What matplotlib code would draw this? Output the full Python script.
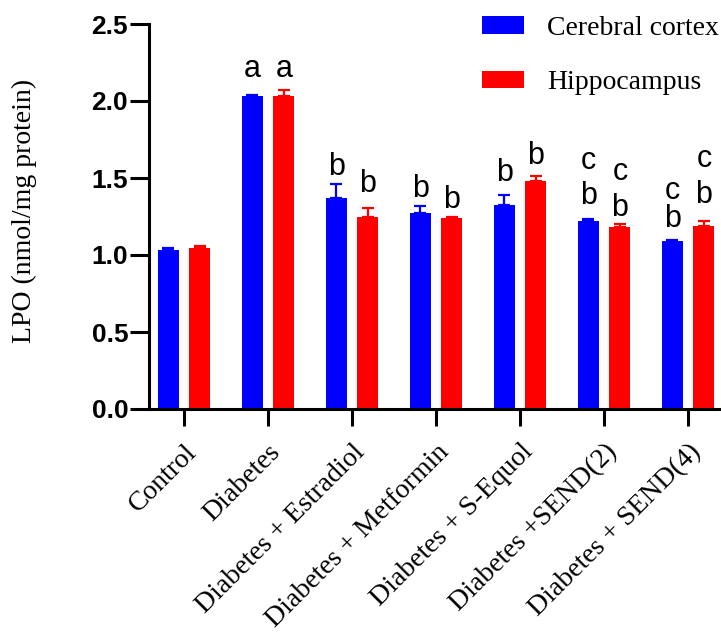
import matplotlib.pyplot as plt
import numpy as np

groups = ['Control', 'Diabetes', 'Diabetes + Estradiol', 'Diabetes + Metformin',
          'Diabetes + S-Equol', 'Diabetes +SEND(2)', 'Diabetes + SEND(4)']
cortex = [1.03, 2.03, 1.37, 1.27, 1.325, 1.22, 1.09]
cortex_err = [0.015, 0.01, 0.09, 0.045, 0.065, 0.015, 0.005]
hippo = [1.045, 2.03, 1.25, 1.24, 1.48, 1.18, 1.19]
hippo_err = [0.015, 0.04, 0.055, 0.01, 0.03, 0.02, 0.03]

# significance letters: (group, series 0=cortex 1=hippocampus, letter, baseline y)
letters = [
    (1, 0, 'a', 2.156), (1, 1, 'a', 2.156),
    (2, 0, 'b', 1.52), (2, 1, 'b', 1.41),
    (3, 0, 'b', 1.377), (3, 1, 'b', 1.305),
    (4, 0, 'b', 1.48), (4, 1, 'b', 1.59),
    (5, 0, 'b', 1.33), (5, 0, 'c', 1.56), (5, 1, 'b', 1.253), (5, 1, 'c', 1.487),
    (6, 0, 'b', 1.18), (6, 0, 'c', 1.364), (6, 1, 'b', 1.338), (6, 1, 'c', 1.57),
]

serif = 'Liberation Serif'
sans = 'Liberation Sans'

x = np.arange(len(groups))
width = 0.25
off = 0.19

fig = plt.figure(figsize=(7.21, 6.32), dpi=100)
ax = fig.add_axes([149 / 721, 1 - 409 / 632, 1 - 149 / 721, (409 - 24) / 632])

ax.bar(x - off, cortex, width, color='#0000FF', label='Cerebral cortex', zorder=2)
ax.bar(x + off, hippo, width, color='#FF0000', label='Hippocampus', zorder=2)
ax.errorbar(x - off, cortex, yerr=[np.zeros(len(x)), cortex_err], fmt='none',
            ecolor='#0000FF', elinewidth=1.6, capsize=4, capthick=1.6, zorder=1)
ax.errorbar(x + off, hippo, yerr=[np.zeros(len(x)), hippo_err], fmt='none',
            ecolor='#FF0000', elinewidth=1.6, capsize=4, capthick=1.6, zorder=1)

for g, s, txt, yy in letters:
    xx = g - off if s == 0 else g + off
    ax.text(xx, yy, txt, ha='center', va='baseline', fontsize=22, family=sans)

ax.set_ylim(0, 2.5)
ax.set_xlim(-0.417, 6.393)
ax.set_yticks([0, 0.5, 1.0, 1.5, 2.0, 2.5])
ax.set_yticklabels(['0.0', '0.5', '1.0', '1.5', '2.0', '2.5'],
                   fontsize=19, fontweight='bold', family=sans)
ax.set_xticks(x)
ax.set_xticklabels(groups, rotation=45, ha='right', va='top',
                   rotation_mode='anchor', fontsize=20, family=serif)
ax.tick_params(axis='x', width=2.2, length=12, pad=10)
ax.tick_params(axis='y', width=2.2, length=14, pad=1)

for sp in ['top', 'right']:
    ax.spines[sp].set_visible(False)
for sp in ['left', 'bottom']:
    ax.spines[sp].set_linewidth(2.2)

ax.set_ylabel('LPO (nmol/mg protein)', fontsize=20, family=serif)
ax.yaxis.set_label_coords(-0.196, 0.514)

leg = fig.legend(loc='upper left', bbox_to_anchor=(482 / 721, 1 - 16 / 632), frameon=False,
                 prop={'family': serif, 'size': 20}, handlelength=1.5, handleheight=0.6,
                 handletextpad=0.85, labelspacing=1.05, borderpad=0, borderaxespad=0)

plt.savefig('out.png', dpi=100)
